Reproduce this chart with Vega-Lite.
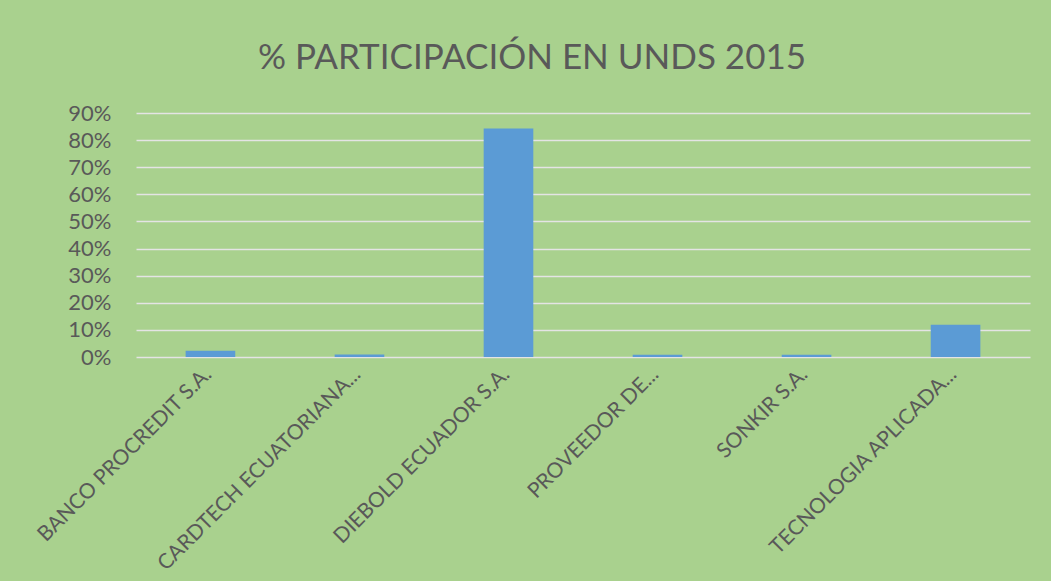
{
  "$schema": "https://vega.github.io/schema/vega-lite/v6.json",
  "width": 894,
  "height": 244,
  "autosize": {"type": "none"},
  "padding": {"left": 136, "top": 113, "right": 21, "bottom": 224},
  "background": "#a9d18e",
  "title": {
    "text": "% PARTICIPACIÓN EN UNDS 2015",
    "font": "Lato",
    "fontSize": 35,
    "fontWeight": "normal",
    "color": "#595959",
    "anchor": "middle",
    "offset": 26,
    "dx": -51
  },
  "data": {
    "values": [
      {"empresa": "BANCO PROCREDIT S.A.", "pct": 0.023},
      {"empresa": "CARDTECH ECUATORIANA...", "pct": 0.009},
      {"empresa": "DIEBOLD ECUADOR S.A.", "pct": 0.843},
      {"empresa": "PROVEEDOR DE...", "pct": 0.008},
      {"empresa": "SONKIR S.A.", "pct": 0.008},
      {"empresa": "TECNOLOGIA APLICADA...", "pct": 0.119}
    ]
  },
  "mark": {"type": "bar", "color": "#5b9bd5"},
  "encoding": {
    "x": {
      "field": "empresa",
      "type": "nominal",
      "sort": null,
      "title": null,
      "scale": {"paddingInner": 0.667, "paddingOuter": 0.333},
      "axis": {
        "labelAngle": -45,
        "labelAlign": "right",
        "labelBaseline": "middle",
        "labelPadding": 14,
        "labelOffset": -2,
        "labelFont": "Lato",
        "labelFontSize": 21,
        "labelColor": "#595959",
        "labelLimit": 400,
        "ticks": false,
        "domain": false,
        "grid": false
      }
    },
    "y": {
      "field": "pct",
      "type": "quantitative",
      "title": null,
      "scale": {"domain": [0, 0.9], "nice": false},
      "axis": {
        "format": ".0%",
        "values": [0, 0.1, 0.2, 0.3, 0.4, 0.5, 0.6, 0.7, 0.8, 0.9],
        "labelFont": "Lato",
        "labelFontSize": 22,
        "labelColor": "#595959",
        "labelPadding": 25,
        "ticks": false,
        "domain": false,
        "gridColor": "#e4e4e4",
        "gridWidth": 1.5
      }
    }
  },
  "config": {"view": {"stroke": null}}
}
